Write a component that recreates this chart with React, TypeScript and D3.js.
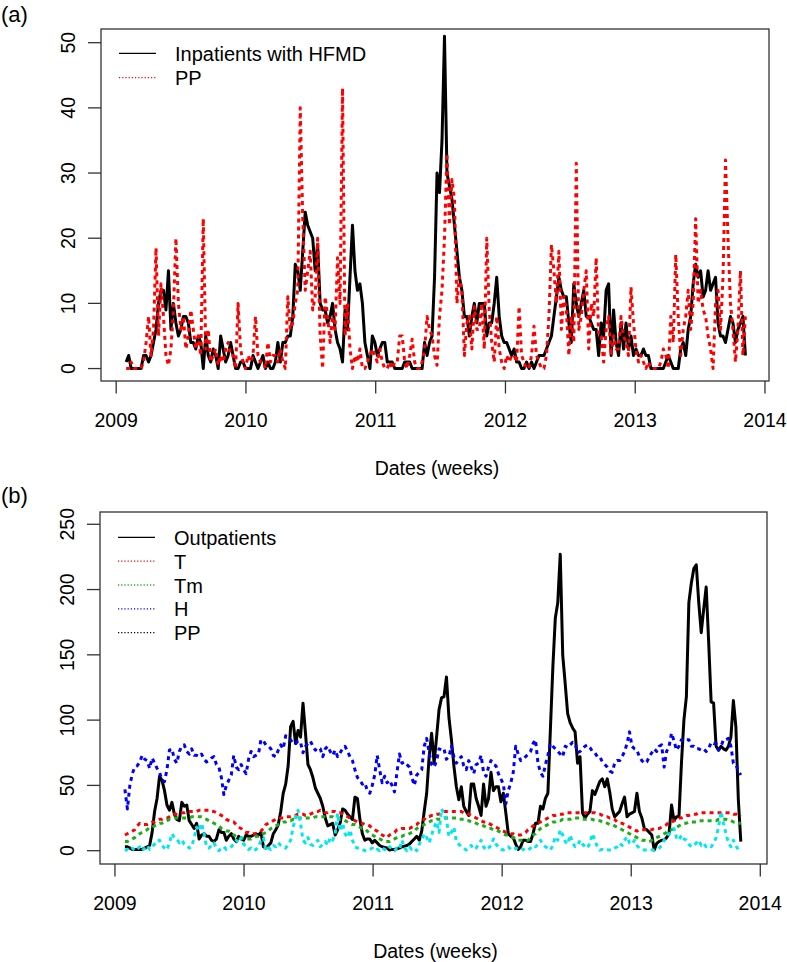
import React from "react";
import * as d3 from "d3";

const W = 787;
const H = 962;
const FONT = "'Liberation Sans', Arial, Helvetica, sans-serif";

// ---- axis ticks ----
const YEAR_TICKS = [2009, 2010, 2011, 2012, 2013, 2014];
const A_TICKS = [0, 10, 20, 30, 40, 50];
const B_TICKS = [0, 50, 100, 150, 200, 250];

// first weekly observation (decimal year) and the weekly step
const FIRST_WEEK = 2009.077;
const WEEK_YEARS = 7 / 365.25;

// ---- panel (a) ----
const inpatients = [
  1, 2, 0, 0, 0, 0, 0, 2, 2, 1,
  2, 4, 6, 10, 12, 12, 9, 15, 6, 10,
  7, 5, 6, 8, 8, 7, 4, 4, 3, 5,
  4, 0, 5, 2, 1, 3, 2, 0, 5, 3,
  1, 2, 4, 2, 0, 0, 1, 1, 0, 0,
  0, 2, 1, 0, 1, 2, 0, 1, 0, 0,
  1, 4, 1, 4, 4, 5, 5, 8, 16, 15,
  12, 18, 24, 22, 21, 20, 15, 19, 10, 9,
  9, 7, 8, 10, 6, 4, 3, 1, 9, 6,
  14, 22, 15, 12, 13, 10, 4, 2, 0, 5,
  4, 2, 3, 4, 4, 1, 1, 1, 0, 0,
  0, 0, 1, 1, 1, 0, 0, 0, 0, 0,
  4, 2, 4, 5, 14, 30, 27, 35, 51, 30,
  28, 26, 22, 18, 14, 12, 8, 8, 5, 8,
  10, 7, 10, 10, 10, 5, 7, 7, 10, 14,
  8, 5, 4, 4, 3, 2, 3, 1, 1, 0,
  0, 1, 0, 1, 0, 1, 2, 2, 2, 3,
  4, 5, 8, 11, 14, 12, 11, 11, 7, 4,
  13, 10, 8, 10, 12, 8, 8, 7, 6, 6,
  2, 7, 5, 12, 13, 2, 9, 4, 2, 7,
  3, 7, 3, 5, 2, 3, 2, 2, 3, 2,
  2, 0, 0, 0, 0, 0, 0, 1, 2, 1,
  0, 0, 0, 3, 4, 2, 6, 8, 13, 16,
  14, 15, 11, 12, 15, 12, 13, 14, 7, 5,
  5, 4, 6, 8, 7, 4, 6, 7, 8, 2,
];

const ppA = [
  0, 0, 1, 0, 0, 0, 0, 1, 4, 8,
  2, 6, 18.5, 5, 13, 8, 2, 0.5, 3, 9,
  20, 10, 6, 8, 3, 5, 9, 6, 3, 5,
  2, 23, 3, 6, 1, 2, 3, 0.5, 2, 1,
  3, 4, 2, 2, 0, 10, 3, 1, 0, 2,
  1, 2, 8, 2, 1, 1, 0, 4, 1, 2,
  2, 1, 3, 1, 0, 11, 6, 7, 10, 12,
  40, 23, 12, 15, 18, 9, 11, 20, 5, 0,
  11, 8, 4, 8, 6, 17, 10, 43, 5, 10,
  3, 0, 2, 1, 3, 0, 0, 1, 2, 3,
  2, 1, 3, 1, 0, 0, 1, 0, 1, 1,
  5, 5, 1, 0, 2, 4.5, 1, 0, 0, 1,
  3, 8, 6, 5, 2, 0.5, 8, 12, 20, 33,
  22, 29, 26, 10, 14, 12, 2, 7, 8, 3,
  9.5, 6, 6, 10, 3, 20, 9, 4, 1, 8,
  3, 1, 0, 2, 1, 2, 2, 1, 9.5, 2,
  1, 0, 0, 2, 6.5, 2, 1, 0, 0, 2,
  8, 19, 15, 10, 18, 6, 11, 9, 2, 8,
  4, 31.5, 6, 8, 12, 15, 3, 10, 8, 17,
  5, 5, 1, 6, 8, 2, 5, 3, 3, 8,
  5, 4, 2, 12.5, 7, 3, 1, 2, 1, 0,
  1, 0, 0, 0, 0, 1, 3, 2, 0, 8,
  4, 17.5, 8, 2, 6, 8, 12, 6, 10, 23,
  10, 12, 9, 8, 5, 3, 0, 10, 12, 6,
  14, 32, 20, 10, 6, 1, 6, 15, 2, 8,
];

// ---- panel (b) ----
const outpatients = [
  3, 3, 2, 1, 1, 1, 1, 1, 2, 3,
  4, 14, 30, 40, 57, 54, 46, 35, 31, 37,
  28, 24, 23, 37, 34, 35, 23, 20, 17, 21,
  9, 12, 13, 11, 11, 8, 7, 9, 16, 14,
  14, 8, 11, 13, 9, 7, 11, 9, 8, 12,
  11, 11, 12, 13, 12, 14, 3, 2, 4, 6,
  13, 16, 20, 30, 44, 51, 65, 95, 99, 82,
  92, 87, 113, 90, 66, 62, 56, 48, 44, 40,
  34, 25, 19, 20, 21, 12, 16, 21, 32, 31,
  28, 26, 24, 41, 40, 24, 13, 8, 9, 9,
  6, 8, 6, 4, 3, 2.5, 2, 0.5, 1, 1,
  1.5, 2, 3, 3.5, 4, 5, 7, 9, 11, 8,
  15, 30, 44, 72, 90, 67, 87, 108, 117, 118,
  133, 102, 85, 65, 49, 39, 49, 34, 30, 27,
  51, 51, 40, 34, 27, 51, 34, 40, 60, 46,
  49, 49, 37.5, 44, 29, 13, 11, 10, 5, 1,
  3, 8, 8, 7, 7, 13, 21, 21, 34, 32,
  40, 44, 92, 140, 178, 190, 227, 150, 128, 105,
  98, 94, 91, 67, 72, 29, 25, 28, 30, 46,
  43, 48, 53, 55, 49, 55, 45, 32, 26, 28,
  30, 36, 41, 26, 28, 29, 30, 44, 30, 25,
  17, 16, 14, 12, 0.5, 5.6, 7, 8, 8, 10,
  13, 35, 23, 26, 26, 67, 100, 118, 190, 205,
  216, 219, 190, 167, 185, 202, 160, 114, 113, 80,
  77, 80, 78, 77, 80, 87, 115, 95, 39, 7,
];

const tempT = [
  12, 13, 14, 15, 16, 19, 21, 20, 20, 20,
  21, 22, 22, 23, 24, 24, 25, 25, 26, 27,
  28, 28, 28, 29, 29, 30, 30, 30, 30, 30,
  31, 31, 31, 31, 31, 30, 30, 29, 28, 27,
  26, 24, 23, 22, 22, 20, 18, 17, 15, 14,
  14, 13, 13, 13, 14, 15, 17, 20, 21, 22,
  23, 24, 24, 25, 25, 26, 26, 26, 27, 27,
  28, 28, 28, 27, 27, 28, 29, 30, 30, 31,
  30, 29, 29, 30, 30, 30, 29, 29, 28, 27,
  26, 25, 24, 23, 22, 21, 21, 20, 20, 19,
  17, 16, 15, 13, 12, 11, 10, 12, 13, 14,
  16, 16, 17, 17, 17, 17, 18, 19, 20, 22,
  23, 24, 26, 26, 27, 27, 28, 28, 29, 30,
  30, 30, 30, 30, 30, 30, 30, 29, 29, 28,
  27, 26, 25, 24, 23, 22, 22, 21, 20, 19,
  18, 17, 16, 15, 14, 14, 13, 13, 12, 12,
  12, 13, 14, 16, 17, 19, 20, 21, 22, 23,
  24, 25, 26, 27, 27, 28, 28, 28, 29, 29,
  29, 29, 29, 29, 29, 29, 29, 29, 29, 29,
  29, 28, 28, 27, 26, 26, 25, 25, 24, 22,
  21, 21, 20, 19, 18, 17, 16, 15, 16, 16,
  16, 16, 16, 16, 17, 17, 17, 18, 19, 20,
  22, 22, 23, 24, 25, 25, 26, 27, 27, 28,
  28, 28, 29, 29, 29, 29, 29, 29, 29, 29,
  29, 29, 29, 29, 29, 29, 28, 28, 27, 26,
];

const tempTm = [
  7, 7, 8, 9, 10, 12, 13, 14, 15, 16,
  18, 18, 19, 20, 21, 21, 22, 23, 24, 24,
  25, 25, 25, 25, 25, 25, 25, 26, 26, 26,
  26, 26, 25, 24, 23, 22, 21, 20, 19, 17,
  16, 15, 15, 14, 12, 11, 10, 10, 9, 9,
  9, 9, 10, 11, 11, 12, 13, 14, 15, 17,
  18, 19, 20, 21, 22, 22, 23, 23, 24, 24,
  25, 25, 25, 25, 25, 25, 25, 26, 26, 26,
  26, 26, 26, 26, 26, 25, 25, 24, 24, 23,
  22, 21, 20, 20, 19, 18, 17, 17, 15, 13,
  12, 11, 10, 9, 8, 7, 7, 7, 8, 9,
  10, 11, 11, 12, 12, 13, 14, 15, 17, 18,
  19, 20, 21, 22, 23, 23, 24, 24, 24, 25,
  25, 25, 25, 25, 25, 24, 24, 24, 23, 23,
  22, 22, 21, 20, 20, 19, 18, 17, 17, 16,
  16, 15, 14, 13, 12, 12, 11, 10, 9, 8,
  8, 8, 8, 8, 10, 12, 13, 15, 17, 18,
  19, 20, 21, 22, 22, 23, 23, 24, 24, 24,
  24, 25, 25, 25, 25, 24, 24, 24, 24, 24,
  23, 23, 23, 22, 22, 21, 20, 20, 19, 18,
  17, 16, 15, 14, 13, 12, 11, 10, 9, 8,
  8, 7, 7, 8, 9, 10, 11, 12, 13, 14,
  16, 16, 17, 18, 19, 20, 21, 21, 22, 22,
  22, 22, 23, 23, 23, 23, 23, 23, 23, 23,
  24, 24, 24, 24, 23, 23, 22, 22, 21, 21,
];

const humidH = [
  47, 32, 50, 59, 64, 65, 68, 73, 70, 69,
  63, 71, 67, 63, 60, 54, 53, 62, 77, 78,
  70, 67, 76, 80, 81, 76, 74, 78, 73, 73,
  72, 74, 70, 68, 69, 71, 72, 66, 64, 56,
  43, 50, 54, 58, 73, 64, 62, 66, 62, 59,
  70, 76, 72, 73, 74, 85, 84, 81, 80, 78,
  73, 72, 77, 81, 78, 88, 86, 85, 82, 82,
  84, 83, 75, 80, 82, 84, 80, 77, 79, 78,
  72, 78, 80, 76, 73, 77, 72, 75, 78, 80,
  76, 72, 69, 62, 56, 54, 51, 52, 46, 44,
  50, 58, 73, 62, 52, 57, 52, 54, 50, 45,
  60, 74, 67, 68, 66, 64, 56, 50, 58, 60,
  62, 80, 86, 75, 66, 64, 69, 78, 77, 78,
  70, 72, 80, 72, 67, 70, 72, 65, 62, 69,
  64, 59, 66, 67, 73, 60, 57, 64, 69, 66,
  65, 59, 55, 51, 36, 46, 52, 60, 80, 74,
  69, 70, 72, 74, 76, 82, 85, 67, 60, 57,
  66, 73, 82, 80, 78, 76, 74, 72, 80, 79,
  81, 83, 82, 75, 76, 78, 80, 81, 79, 76,
  75, 72, 72, 68, 66, 64, 61, 60, 67, 69,
  69, 72, 76, 82, 91, 80, 78, 77, 72, 69,
  67, 68, 72, 75, 78, 76, 80, 81, 64, 76,
  80, 90, 84, 77, 80, 85, 84, 85, 85, 80,
  80, 78, 78, 77, 78, 76, 78, 83, 82, 82,
  77, 80, 85, 85, 86, 80, 67, 66, 61, 58,
];

const ppB = [
  0, 1, 0, 2, 0, 1, 3, 0, 2, 4,
  1, 3, 5, 8, 8, 4, 2, 0.5, 6, 13,
  10, 9, 6, 8, 5, 4, 2, 3, 10, 18,
  15, 21, 13, 3, 2, 4, 6, 2, 0, 2,
  3, 1, 2, 3, 5, 8, 6, 10, 5, 3,
  1, 2, 0, 1, 3, 8, 10, 0, 2, 1,
  4, 3, 6, 4, 3, 2, 5, 8, 18, 25,
  31, 21, 8, 6, 10, 5, 4, 6, 8, 3,
  5, 7, 4, 10, 8, 13, 28.6, 15, 21, 13,
  10, 16, 8, 3, 2, 2, 1, 0, 0, 1,
  2, 0, 1, 0, 2, 1, 0, 3, 1, 0,
  2, 1, 8, 2, 0, 3, 1, 2, 0, 5,
  8, 13, 10, 6, 12, 18, 22, 14, 32, 28.6,
  24, 11, 14, 18, 7, 5, 3, 2, 0.5, 2,
  4, 1, 2, 5, 8, 3, 0.5, 2, 4, 9,
  5, 3, 1, 0.5, 2, 3, 1, 0.5, 2, 1,
  2, 1, 0, 0.5, 2, 4, 3, 5, 8, 5,
  3, 2, 0.5, 4, 10.7, 8, 16, 12, 7, 5,
  12, 6, 3, 4, 8, 5, 3, 2, 6, 13,
  8, 3, 0.5, 1, 0, 0.5, 0.5, 0.5, 2, 3,
  5.6, 4, 8, 10.7, 6, 5, 8, 4, 2, 1,
  0.5, 0.5, 0.5, 0.5, 0.5, 1, 2, 4, 8, 10,
  13, 15, 17, 10, 8, 12, 9, 8, 5, 3,
  4, 6, 8, 4, 5.6, 3, 4, 3, 5.6, 10,
  18, 30, 21, 13, 6, 3, 8, 4, 0.5, 1,
];

const LEGEND_A = ["Inpatients with HFMD", "PP"];
const LEGEND_B = ["Outpatients", "T", "Tm", "H", "PP"];

type Series = { values: number[]; color: string; width: number; dash?: string };
type LegendItem = { label: string; color: string; width: number; dash?: string };

type PanelProps = {
  id: string;
  tag: string;
  tagY: number;
  box: { x0: number; x1: number; y0: number; y1: number };
  xDomain: [number, number];
  yDomain: [number, number];
  yTicks: number[];
  series: Series[];
  legend: LegendItem[];
  legendTop: number;
  legendStep: number;
};

function Panel(p: PanelProps) {
  const { box } = p;
  const x = d3.scaleLinear().domain(p.xDomain).range([box.x0, box.x1]);
  const y = d3.scaleLinear().domain(p.yDomain).range([box.y1, box.y0]);
  const line = (vals: number[]) =>
    d3
      .line<number>()
      .x((_, i) => x(FIRST_WEEK + i * WEEK_YEARS))
      .y((v) => y(v))(vals) || "";
  const axisColor = "#333";
  return (
    <g>
      <text x={1} y={p.tagY} fontSize={22} fill="#000" fontFamily={FONT}>
        {p.tag}
      </text>
      <defs>
        <clipPath id={`clip-${p.id}`}>
          <rect x={box.x0} y={box.y0} width={box.x1 - box.x0} height={box.y1 - box.y0} />
        </clipPath>
      </defs>
      <g clipPath={`url(#clip-${p.id})`}>
        {p.series.map((s, k) => (
          <path
            key={k}
            d={line(s.values)}
            fill="none"
            stroke={s.color}
            strokeWidth={s.width}
            strokeDasharray={s.dash}
            strokeLinejoin="round"
          />
        ))}
      </g>
      <rect
        x={box.x0}
        y={box.y0}
        width={box.x1 - box.x0}
        height={box.y1 - box.y0}
        fill="none"
        stroke={axisColor}
        strokeWidth={1.3}
      />
      {p.yTicks.map((t) => (
        <g key={`y${t}`}>
          <line x1={box.x0 - 13} x2={box.x0} y1={y(t)} y2={y(t)} stroke={axisColor} strokeWidth={1.3} />
          <text
            transform={`translate(${box.x0 - 26.5},${y(t)}) rotate(-90)`}
            textAnchor="middle"
            fontSize={19.5}
            fill="#000"
            fontFamily={FONT}
          >
            {t}
          </text>
        </g>
      ))}
      {YEAR_TICKS.map((t) => (
        <g key={`x${t}`}>
          <line x1={x(t)} x2={x(t)} y1={box.y1} y2={box.y1 + 12.5} stroke={axisColor} strokeWidth={1.3} />
          <text x={x(t)} y={box.y1 + 45.5} textAnchor="middle" fontSize={19.5} fill="#000" fontFamily={FONT}>
            {t}
          </text>
        </g>
      ))}
      <text
        x={(box.x0 + box.x1) / 2 + 2}
        y={box.y1 + 94}
        textAnchor="middle"
        fontSize={19.5}
        fill="#000"
        fontFamily={FONT}
      >
        Dates (weeks)
      </text>
      {p.legend.map((l, k) => {
        const ly = p.legendTop + k * p.legendStep;
        return (
          <g key={`l${k}`}>
            <line
              x1={box.x0 + 18}
              x2={box.x0 + 55}
              y1={ly}
              y2={ly}
              stroke={l.color}
              strokeWidth={l.width}
              strokeDasharray={l.dash}
            />
            <text x={box.x0 + 74} y={ly + 7.5} fontSize={20} fill="#000" fontFamily={FONT}>
              {l.label}
            </text>
          </g>
        );
      })}
    </g>
  );
}

export default function App() {
  const RED = "#ff0000";
  const GREEN = "#1aae1a";
  const BLUE = "#0000ff";
  const CYAN = "#00e8ee";
  const DOT = "4 4";
  const LDOT = "1.2 2";
  return (
    <svg
      width={W}
      height={H}
      viewBox={`0 0 ${W} ${H}`}
      style={{ position: "absolute", left: 0, top: 0, background: "#fff" }}
    >
      <rect x={0} y={0} width={W} height={H} fill="#fff" />
      <Panel
        id="a"
        tag="(a)"
        tagY={22}
        box={{ x0: 101, x1: 769, y0: 29, y1: 381 }}
        xDomain={[2008.883, 2014.031]}
        yDomain={[-1.91, 52.1]}
        yTicks={A_TICKS}
        series={[
          { values: inpatients, color: "#000", width: 3 },
          { values: ppA, color: RED, width: 3, dash: DOT },
        ]}
        legend={[
          { label: LEGEND_A[0], color: "#000", width: 1.3 },
          { label: LEGEND_A[1], color: RED, width: 1.3, dash: LDOT },
        ]}
        legendTop={53.3}
        legendStep={24.4}
      />
      <Panel
        id="b"
        tag="(b)"
        tagY={503}
        box={{ x0: 100, x1: 767, y0: 512, y1: 864 }}
        xDomain={[2008.884, 2014.052]}
        yDomain={[-10.2, 259.4]}
        yTicks={B_TICKS}
        series={[
          { values: outpatients, color: "#000", width: 3 },
          { values: tempT, color: RED, width: 3, dash: DOT },
          { values: tempTm, color: GREEN, width: 3, dash: DOT },
          { values: humidH, color: BLUE, width: 3, dash: DOT },
          { values: ppB, color: CYAN, width: 3, dash: DOT },
        ]}
        legend={[
          { label: LEGEND_B[0], color: "#000", width: 1.3 },
          { label: LEGEND_B[1], color: RED, width: 1.3, dash: LDOT },
          { label: LEGEND_B[2], color: GREEN, width: 1.3, dash: LDOT },
          { label: LEGEND_B[3], color: BLUE, width: 1.3, dash: LDOT },
          { label: LEGEND_B[4], color: "#000", width: 1.3, dash: LDOT },
        ]}
        legendTop={537.3}
        legendStep={23.85}
      />
    </svg>
  );
}
